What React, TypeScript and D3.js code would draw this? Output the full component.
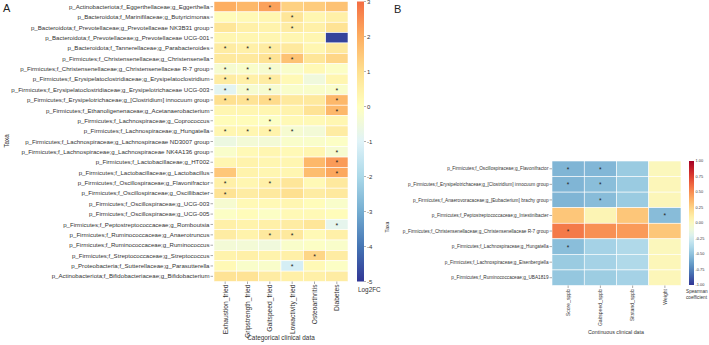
import React, { useEffect, useRef } from "react";
import * as d3 from "d3";

// ---- Panel A: log2 fold change per taxon vs categorical clinical data ----
const taxaA = [
  "p_Actinobacteriota;f_Eggerthellaceae;g_Eggerthella",
  "p_Bacteroidota;f_Marinifilaceae;g_Butyricimonas",
  "p_Bacteroidota;f_Prevotellaceae;g_Prevotellaceae NK3B31 group",
  "p_Bacteroidota;f_Prevotellaceae;g_Prevotellaceae UCG-001",
  "p_Bacteroidota;f_Tannerellaceae;g_Parabacteroides",
  "p_Firmicutes;f_Christensenellaceae;g_Christensenella",
  "p_Firmicutes;f_Christensenellaceae;g_Christensenellaceae R-7 group",
  "p_Firmicutes;f_Erysipelatoclostridiaceae;g_Erysipelatoclostridium",
  "p_Firmicutes;f_Erysipelatoclostridiaceae;g_Erysipelotrichaceae UCG-003",
  "p_Firmicutes;f_Erysipelotrichaceae;g_[Clostridium] innocuum group",
  "p_Firmicutes;f_Ethanoligenenaceae;g_Acetanaerobacterium",
  "p_Firmicutes;f_Lachnospiraceae;g_Coprococcus",
  "p_Firmicutes;f_Lachnospiraceae;g_Hungatella",
  "p_Firmicutes;f_Lachnospiraceae;g_Lachnospiraceae ND3007 group",
  "p_Firmicutes;f_Lachnospiraceae;g_Lachnospiraceae NK4A136 group",
  "p_Firmicutes;f_Lactobacillaceae;g_HT002",
  "p_Firmicutes;f_Lactobacillaceae;g_Lactobacillus",
  "p_Firmicutes;f_Oscillospiraceae;g_Flavonifractor",
  "p_Firmicutes;f_Oscillospiraceae;g_Oscillibacter",
  "p_Firmicutes;f_Oscillospiraceae;g_UCG-003",
  "p_Firmicutes;f_Oscillospiraceae;g_UCG-005",
  "p_Firmicutes;f_Peptostreptococcaceae;g_Romboutsia",
  "p_Firmicutes;f_Ruminococcaceae;g_Anaerotruncus",
  "p_Firmicutes;f_Ruminococcaceae;g_Ruminococcus",
  "p_Firmicutes;f_Streptococcaceae;g_Streptococcus",
  "p_Proteobacteria;f_Sutterellaceae;g_Parasutterella",
  "p_Actinobacteriota;f_Bifidobacteriaceae;g_Bifidobacterium",
];
const varsA = ["Exhaustion_fried", "Gripstrength_fried", "Gaitspeed_fried", "Lowactivity_fried", "Osteoarthritis", "Diabetes"];
const log2fc = [
  [2.0, 1.8, 2.2, 1.3, 1.4, 1.6],
  [0.1, 0.2, 0.3, 0.8, 0.3, 0.5],
  [0.8, 0.5, 0.4, 0.6, 0.5, 0.9],
  [0.3, 0.3, 0.3, 0.3, 0.3, -4.8],
  [0.6, 0.5, 0.6, 0.7, 0.3, 0.7],
  [0.7, 0.7, 0.9, 1.6, 0.8, 1.2],
  [-0.3, -0.2, -0.3, -0.2, 0.2, -0.1],
  [0.6, 0.5, 0.6, 0.2, -0.5, 0.3],
  [-0.9, -0.3, -0.3, -0.2, -0.2, -0.2],
  [1.0, 0.9, 1.1, 0.7, 0.7, 1.8],
  [0.3, 0.3, 0.3, 0.4, 0.9, 1.8],
  [0.1, 0.1, -0.1, 0.2, 0.2, 0.3],
  [0.3, 0.3, 0.4, -0.3, -0.4, 0.6],
  [-0.6, -0.4, -0.4, -0.2, -0.2, -0.1],
  [-0.2, 0.2, 0.3, 0.2, 0.3, -0.3],
  [0.3, 0.4, 0.3, 0.3, 1.8, 2.3],
  [1.5, 0.4, 0.3, 0.3, 1.7, 2.1],
  [0.5, 0.3, 0.5, 0.8, 0.2, 0.7],
  [0.9, 0.6, 0.7, 1.0, 0.6, 0.7],
  [-0.3, 0.2, 0.2, 0.3, 0.1, -0.2],
  [-0.1, 0.1, -0.1, 0.2, 0.2, 0.1],
  [0.5, 0.4, 0.5, 0.6, 0.8, -0.8],
  [0.6, 0.4, 0.7, 0.7, 0.2, 0.5],
  [-0.4, -0.4, -0.5, -0.2, -0.1, -0.2],
  [0.4, 0.5, 0.4, 0.5, 1.2, 0.6],
  [0.2, -0.2, -0.2, -1.2, 0.2, -0.1],
  [0.9, 0.9, 0.6, 0.5, 0.5, 0.6],
];
const sigA = [
  [0, 0, 1, 0, 0, 0],
  [0, 0, 0, 1, 0, 0],
  [0, 0, 0, 1, 0, 0],
  [0, 0, 0, 0, 0, 0],
  [1, 1, 1, 0, 0, 0],
  [0, 0, 1, 1, 0, 0],
  [1, 1, 1, 0, 0, 0],
  [1, 1, 1, 0, 0, 0],
  [1, 1, 1, 0, 0, 1],
  [1, 1, 1, 0, 0, 1],
  [0, 0, 0, 0, 0, 1],
  [0, 0, 1, 0, 0, 0],
  [1, 1, 1, 1, 0, 0],
  [0, 0, 0, 0, 0, 0],
  [0, 0, 0, 0, 0, 1],
  [0, 0, 0, 0, 0, 1],
  [0, 0, 0, 0, 0, 1],
  [1, 0, 1, 0, 0, 0],
  [1, 0, 0, 0, 0, 0],
  [0, 0, 0, 0, 0, 0],
  [0, 0, 0, 0, 0, 0],
  [0, 0, 0, 0, 0, 1],
  [0, 0, 1, 1, 0, 0],
  [0, 0, 0, 0, 0, 0],
  [0, 0, 0, 0, 1, 0],
  [0, 0, 0, 1, 0, 0],
  [0, 0, 0, 0, 0, 0],
];
const ticksA = [3, 2, 1, 0, -1, -2, -3, -4, -5];

// ---- Panel B: Spearman correlation per taxon vs continuous clinical data ----
const taxaB = [
  "p_Firmicutes;f_Oscillospiraceae;g_Flavonifractor",
  "p_Firmicutes;f_Erysipelotrichaceae;g_[Clostridium] innocuum group",
  "p_Firmicutes;f_Anaerovoracaceae;g_[Eubacterium] brachy group",
  "p_Firmicutes;f_Peptostreptococcaceae;g_Intestinibacter",
  "p_Firmicutes;f_Christensenellaceae;g_Christensenellaceae R-7 group",
  "p_Firmicutes;f_Lachnospiraceae;g_Hungatella",
  "p_Firmicutes;f_Lachnospiraceae;g_Eisenbergiella",
  "p_Firmicutes;f_Ruminococcaceae;g_UBA1819",
];
const varsB = ["Score_sppb", "Gaitspeed_sppb", "Sitstand_sppb", "Weight"];
const rho = [
  [-0.56, -0.55, -0.46, 0.02],
  [-0.56, -0.52, -0.46, 0.03],
  [-0.56, -0.53, -0.46, 0.03],
  [0.3, 0.05, 0.3, -0.53],
  [0.56, 0.49, 0.46, 0.3],
  [-0.52, -0.42, -0.38, 0.02],
  [-0.46, -0.42, -0.38, 0.03],
  [-0.48, -0.45, -0.42, 0.03],
];
const sigB = [
  [1, 1, 0, 0],
  [1, 1, 0, 0],
  [0, 1, 0, 0],
  [0, 0, 0, 1],
  [1, 0, 0, 0],
  [1, 0, 0, 0],
  [0, 0, 0, 0],
  [0, 0, 0, 0],
];
const ticksB = [1, 0.75, 0.5, 0.25, 0, -0.25, -0.5, -0.75, -1];

const FONT = "Liberation Sans, Arial, sans-serif";

export default function App() {
  const svgRef = useRef<SVGSVGElement>(null);

  useEffect(() => {
    if (!svgRef.current) return;
    const svg = d3.select(svgRef.current);
    svg.selectAll("*").remove();
    svg.style("font-family", FONT);

    const defs = svg.append("defs");

    // ================= Panel A =================
    const colorA = d3.scaleLinear<string>()
      .domain([-5, -4, -3, -2, -1, 0, 1, 2, 3])
      .range(["#313695", "#4575b4", "#74add1", "#abd9e9", "#e0f3f8", "#ffffbf", "#fee090", "#fdae61", "#f46d43"])
      .clamp(true);

    const xA = d3.scaleBand().domain(varsA).range([214, 348]);
    const yA = d3.scaleBand().domain(taxaA).range([1.5, 281.5]);

    const gA = svg.append("g");
    taxaA.forEach((t, i) => {
      varsA.forEach((v, j) => {
        gA.append("rect")
          .attr("x", xA(v)!).attr("y", yA(t)!)
          .attr("width", xA.bandwidth()).attr("height", yA.bandwidth())
          .attr("fill", colorA(log2fc[i][j]))
          .attr("stroke", "#fff").attr("stroke-width", 0.6);
        if (sigA[i][j]) {
          gA.append("text")
            .attr("x", xA(v)! + xA.bandwidth() / 2)
            .attr("y", yA(t)! + yA.bandwidth() / 2 + 3.2)
            .attr("text-anchor", "middle").style("font-size", "7px").attr("fill", "#222")
            .text("*");
        }
      });
    });

    // row labels + ticks
    taxaA.forEach((t) => {
      const cy = yA(t)! + yA.bandwidth() / 2;
      gA.append("line").attr("x1", 210.5).attr("x2", 213).attr("y1", cy).attr("y2", cy)
        .attr("stroke", "#555").attr("stroke-width", 0.5);
      gA.append("text").attr("x", 209.5).attr("y", cy).attr("dy", "0.35em")
        .attr("text-anchor", "end").style("font-size", "6.1px").attr("fill", "#333").text(t);
    });

    // column labels
    varsA.forEach((v) => {
      const cx = xA(v)! + xA.bandwidth() / 2;
      gA.append("line").attr("x1", cx).attr("x2", cx).attr("y1", 281.5).attr("y2", 284)
        .attr("stroke", "#555").attr("stroke-width", 0.5);
      gA.append("text").attr("transform", `translate(${cx},284.5) rotate(-90)`)
        .attr("dy", "0.35em").attr("text-anchor", "end")
        .style("font-size", "6.7px").attr("fill", "#333").text(v);
    });

    gA.append("text").attr("x", 281).attr("y", 339.5).attr("text-anchor", "middle")
      .style("font-size", "6.4px").attr("fill", "#333").text("Categorical clinical data");
    gA.append("text").attr("transform", "translate(9,141) rotate(-90)").attr("text-anchor", "middle")
      .style("font-size", "6.4px").attr("fill", "#333").text("Taxa");
    gA.append("text").attr("x", 3).attr("y", 12).style("font-size", "11px").attr("fill", "#222").text("A");

    // colour bar A
    const cbA = d3.scaleLinear().domain([-5, 3]).range([281.5, 1.5]);
    const gradA = defs.append("linearGradient").attr("id", "gradA")
      .attr("x1", 0).attr("y1", 1).attr("x2", 0).attr("y2", 0);
    d3.range(-5, 3.01, 0.5).forEach((v) => {
      gradA.append("stop").attr("offset", (v + 5) / 8).attr("stop-color", colorA(v));
    });
    gA.append("rect").attr("x", 357).attr("y", cbA(3)).attr("width", 7).attr("height", cbA(-5) - cbA(3))
      .attr("fill", "url(#gradA)");
    ticksA.forEach((v) => {
      const y = cbA(v);
      gA.append("line").attr("x1", 364).attr("x2", 366).attr("y1", y).attr("y2", y)
        .attr("stroke", "#666").attr("stroke-width", 0.5);
      gA.append("text").attr("x", 367).attr("y", y).attr("dy", "0.35em")
        .style("font-size", "6px").attr("fill", "#333").text(v);
    });
    gA.append("text").attr("x", 358).attr("y", 292).style("font-size", "6.4px").attr("fill", "#333").text("Log2FC");

    // ================= Panel B =================
    const colorB = (v: number) => d3.interpolateRdYlBu((1 - v) / 2);

    const xB = d3.scaleBand().domain(varsB).range([552, 681]);
    const yB = d3.scaleBand().domain(taxaB).range([161, 285.5]);

    const gB = svg.append("g");
    taxaB.forEach((t, i) => {
      varsB.forEach((v, j) => {
        gB.append("rect")
          .attr("x", xB(v)!).attr("y", yB(t)!)
          .attr("width", xB.bandwidth()).attr("height", yB.bandwidth())
          .attr("fill", colorB(rho[i][j]))
          .attr("stroke", "#fff").attr("stroke-width", 0.6);
        if (sigB[i][j]) {
          gB.append("text")
            .attr("x", xB(v)! + xB.bandwidth() / 2)
            .attr("y", yB(t)! + yB.bandwidth() / 2 + 3)
            .attr("text-anchor", "middle").style("font-size", "6.5px").attr("fill", "#222")
            .text("*");
        }
      });
    });

    taxaB.forEach((t) => {
      const cy = yB(t)! + yB.bandwidth() / 2;
      gB.append("line").attr("x1", 549.5).attr("x2", 552).attr("y1", cy).attr("y2", cy)
        .attr("stroke", "#555").attr("stroke-width", 0.5);
      gB.append("text").attr("x", 548.5).attr("y", cy).attr("dy", "0.35em")
        .attr("text-anchor", "end").style("font-size", "4.7px").attr("fill", "#333").text(t);
    });

    varsB.forEach((v) => {
      const cx = xB(v)! + xB.bandwidth() / 2;
      gB.append("line").attr("x1", cx).attr("x2", cx).attr("y1", 285.5).attr("y2", 288)
        .attr("stroke", "#555").attr("stroke-width", 0.5);
      gB.append("text").attr("transform", `translate(${cx},289) rotate(-90)`)
        .attr("dy", "0.35em").attr("text-anchor", "end")
        .style("font-size", "5.1px").attr("fill", "#333").text(v);
    });

    gB.append("text").attr("x", 616).attr("y", 334).attr("text-anchor", "middle")
      .style("font-size", "5.3px").attr("fill", "#333").text("Continuous clinical data");
    gB.append("text").attr("transform", "translate(389,227) rotate(-90)").attr("text-anchor", "middle")
      .style("font-size", "5.1px").attr("fill", "#333").text("Taxa");
    gB.append("text").attr("x", 394).attr("y", 13).style("font-size", "11px").attr("fill", "#222").text("B");

    // colour bar B
    const cbB = d3.scaleLinear().domain([-1, 1]).range([285, 161]);
    const gradB = defs.append("linearGradient").attr("id", "gradB")
      .attr("x1", 0).attr("y1", 1).attr("x2", 0).attr("y2", 0);
    d3.range(-1, 1.001, 0.1).forEach((v) => {
      gradB.append("stop").attr("offset", (v + 1) / 2).attr("stop-color", colorB(v));
    });
    gB.append("rect").attr("x", 689).attr("y", cbB(1)).attr("width", 5).attr("height", cbB(-1) - cbB(1))
      .attr("fill", "url(#gradB)");
    ticksB.forEach((v) => {
      gB.append("text").attr("x", 695.5).attr("y", cbB(v)).attr("dy", "0.35em")
        .style("font-size", "3.9px").attr("fill", "#333").text(v.toFixed(2));
    });
    gB.append("text").attr("x", 686).attr("y", 292.5).style("font-size", "4.7px").attr("fill", "#333").text("Spearman");
    gB.append("text").attr("x", 686).attr("y", 298.5).style("font-size", "4.7px").attr("fill", "#333").text("coefficient");
  }, []);

  return (
    <svg ref={svgRef} width={709} height={345}
      style={{ position: "absolute", left: 0, top: 0, background: "#fff" }} />
  );
}
